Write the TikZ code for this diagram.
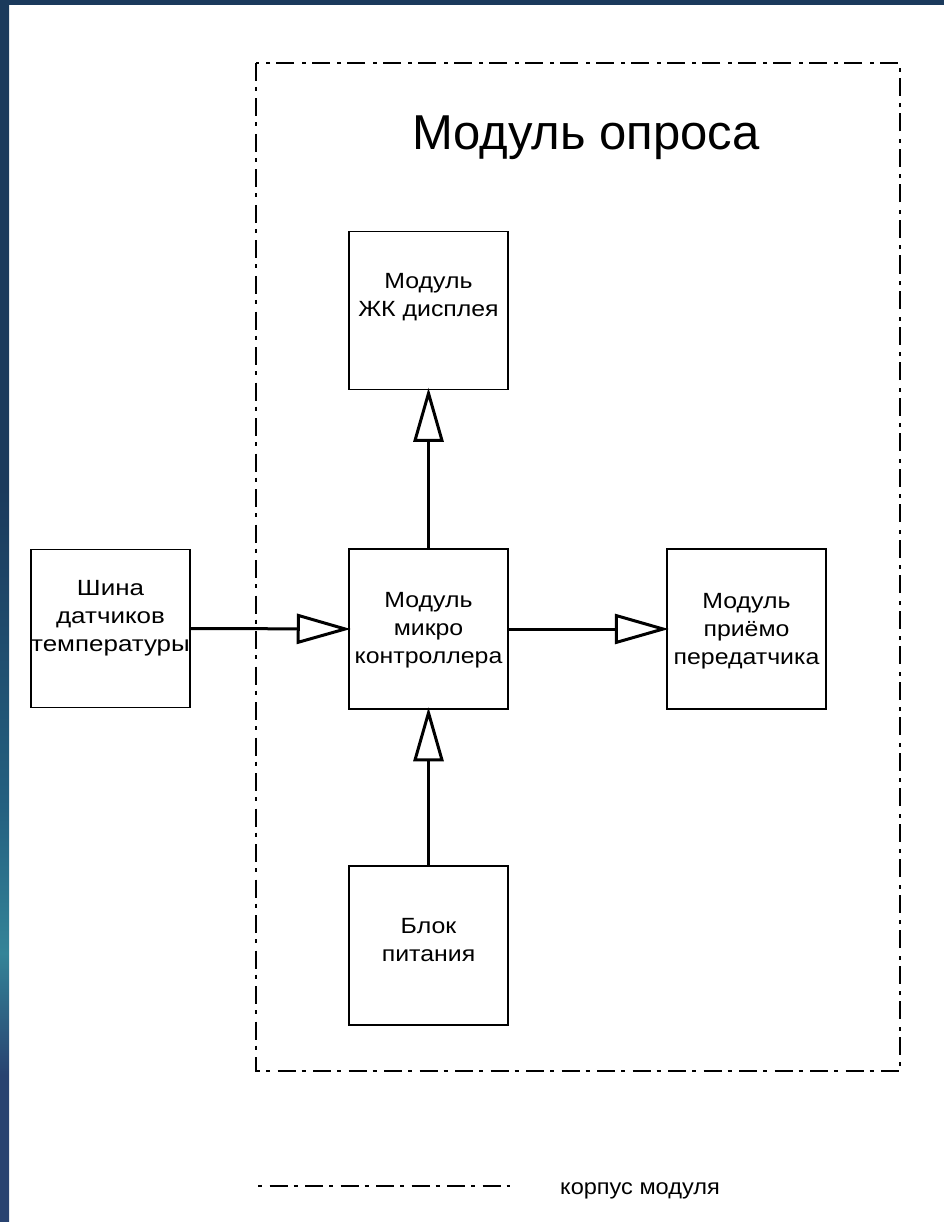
\documentclass[tikz,border=0pt]{standalone}
\usepackage{fontspec}
\setmainfont{Liberation Sans}
\newfontfamily\boxfont[FakeStretch=1.13]{Liberation Sans}
\newfontfamily\busfont[FakeStretch=1.18]{Liberation Sans}
\newfontfamily\legfont[FakeStretch=1.07]{Liberation Sans}
\usetikzlibrary{arrows.meta}
\definecolor{bandtop}{RGB}{27,58,92}
\definecolor{bandmid}{RGB}{36,96,128}
\definecolor{bandteal}{RGB}{52,132,152}
\definecolor{bandbot}{RGB}{40,66,112}
\pgfdeclareverticalshading{lband}{100bp}{color(0bp)=(bandbot); color(25bp)=(bandbot); color(31bp)=(bandbot); color(36bp)=(bandteal); color(42bp)=(bandmid); color(55bp)=(bandtop); color(75bp)=(bandtop); color(100bp)=(bandtop)}
\tikzset{
  blk/.style={draw=black, line width=1.5pt, minimum width=159pt, minimum height=158pt, inner sep=0pt, fill=white},
  txt/.style={align=center, inner sep=0pt, font=\boxfont\fontsize{22}{28}\selectfont},
  arr/.style={line width=3pt, shorten >=-2.5pt, -{Triangle[open, length=54pt, width=30pt]}},
  housing/.style={line width=2pt, dash pattern=on 18pt off 6pt on 4pt off 7.5pt},
}
\begin{document}
\begin{tikzpicture}[x=1pt, y=-1pt]
\useasboundingbox (0,0) rectangle (944,1222);
\fill[white] (0,0) rectangle (944,1222);
% background bands
\shade[shading=lband] (0,0) rectangle (9,1222);
\fill[bandtop] (0,0) rectangle (944,5);
% housing
\draw[housing] (256,63) rectangle (900,1071);
\node[anchor=base, inner sep=0pt, font=\fontsize{49}{58}\selectfont] (title) at (586,150) {Модуль опроса};
% blocks
\node[blk, label={[txt, yshift=13pt]center:{Модуль\\ЖК дисплея}}] (lcd) at (428.5,310.5) {};
\node[blk, minimum height=160pt, label={[txt, yshift=-1pt]center:{Модуль\\микро\\контроллера}}] (mcu) at (428.5,629) {};
\node[blk, label={[txt, font=\busfont\fontsize{22}{28}\selectfont, yshift=10pt]center:{Шина\\датчиков\\температуры}}] (bus) at (110.5,628.5) {};
\node[blk, minimum height=160pt, label={[txt, yshift=-2pt]center:{Модуль\\приёмо\\передатчика}}] (trx) at (746.5,629) {};
\node[blk, minimum height=159pt, label={[txt, yshift=5pt]center:{Блок\\питания}}] (psu) at (428.5,945.5) {};
% connectors
\draw[arr] (bus.east) -- (mcu.west);
\draw[arr] (mcu.east) -- (trx.west);
\draw[arr] (mcu.north) -- (lcd.south);
\draw[arr] (psu.north) -- (mcu.south);
% legend
\coordinate (lgA) at (258,1186);
\coordinate (lgB) at (510,1186);
\draw[housing, dash phase=24pt] (lgA) -- (lgB);
\node[anchor=base west, inner sep=0pt, font=\legfont\fontsize{22}{28}\selectfont] (lgtxt) at (560,1194) {корпус модуля};
\end{tikzpicture}
\end{document}
